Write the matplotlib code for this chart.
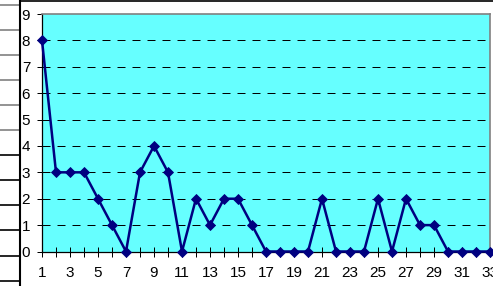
import numpy as np
import matplotlib
matplotlib.use("Agg")
import matplotlib.pyplot as plt
from matplotlib.lines import Line2D

days = list(range(1, 34))
counts = [8, 3, 3, 3, 2, 1, 0, 3, 4, 3, 0, 2, 1, 2, 2, 1, 0, 0, 0, 0, 2,
          0, 0, 0, 2, 0, 2, 1, 1, 0, 0, 0, 0]
day_labels = [str(d) if d % 2 == 1 else "" for d in days]
y_ticks = list(range(0, 10))

plt.rcParams['font.family'] = ['Liberation Sans', 'DejaVu Sans']
plt.rcParams['font.size'] = 11

W, H = 493, 286
fig = plt.figure(figsize=(W / 100, H / 100), dpi=100)
fig.patch.set_facecolor("white")

# plot area in pixels: left 42, top 14, right 490, bottom 251
ax = fig.add_axes([42 / W, 1 - 251.5 / H, 448 / W, 237.5 / H])
ax.set_facecolor("#66ffff")

ax.plot(days, counts, color="#000080", lw=1.8, marker="D", ms=5.6, mew=0.6,
        markerfacecolor="#000080", markeredgecolor="#000080", clip_on=False, zorder=5)

ax.set_xlim(1, 33)
ax.set_ylim(0, 9)
ax.set_xticks(days)
ax.set_xticklabels(day_labels)
ax.set_yticks(y_ticks)

for y in y_ticks[1:-1]:
    ax.axhline(y, color="black", lw=0.72, linestyle=(0, (8, 7)), zorder=2)

ax.tick_params(axis="x", direction="inout", length=6.5, width=0.72, pad=7.5, colors="black")
ax.tick_params(axis="y", direction="out", length=3.5, width=0.72, pad=5, colors="black")

for side in ["left", "bottom"]:
    ax.spines[side].set_color("black")
    ax.spines[side].set_linewidth(0.9)
for side in ["top", "right"]:
    ax.spines[side].set_color("#808080")
    ax.spines[side].set_linewidth(1.2)

# spreadsheet cells and chart border around the crop
def fline(x0, y0, x1, y1, color, lw):
    fig.add_artist(Line2D([x0 / W, x1 / W], [1 - y0 / H, 1 - y1 / H],
                          transform=fig.transFigure, color=color, lw=lw))

for i, y in enumerate([5, 30, 55, 80, 105, 130, 155, 180, 205, 230, 256, 281]):
    fline(0, y, 20, y, "#808080" if i < 6 else "black", 1.2)
fline(20, 0, 20, H, "black", 1.5)
fline(20, 0.5, W, 0.5, "black", 1.2)

fig.savefig("out.png", dpi=100)
